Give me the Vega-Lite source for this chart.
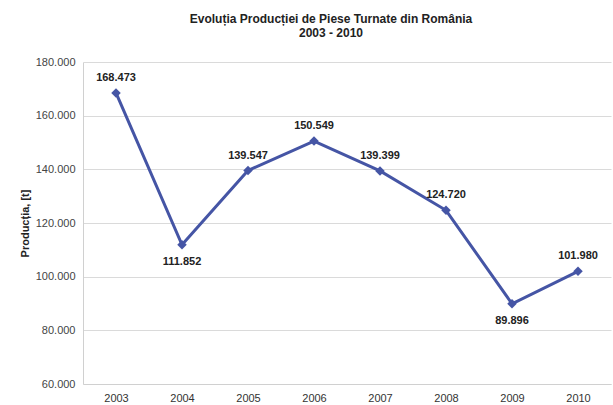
{
  "$schema": "https://vega.github.io/schema/vega-lite/v6.json",
  "autosize": "none",
  "width": 528,
  "height": 322,
  "padding": {"left": 83, "top": 62, "right": 2, "bottom": 21},
  "background": "white",
  "config": {
    "locale": {"number": {"decimal": ",", "thousands": ".", "grouping": [3], "currency": ["", ""]}},
    "font": "Liberation Sans",
    "view": {"stroke": null}
  },
  "title": {
    "text": ["Evoluția Producției de Piese Turnate din România", "2003 - 2010"],
    "fontSize": 12,
    "fontWeight": "bold",
    "color": "#222222",
    "font": "Liberation Sans",
    "anchor": "middle",
    "dx": -16,
    "offset": 16,
    "lineHeight": 14
  },
  "data": {
    "values": [
      {"year": "2003", "prod": 168473},
      {"year": "2004", "prod": 111852},
      {"year": "2005", "prod": 139547},
      {"year": "2006", "prod": 150549},
      {"year": "2007", "prod": 139399},
      {"year": "2008", "prod": 124720},
      {"year": "2009", "prod": 89896},
      {"year": "2010", "prod": 101980}
    ]
  },
  "encoding": {
    "x": {
      "field": "year", "type": "ordinal",
      "scale": {"paddingInner": 1, "paddingOuter": 0.5},
      "axis": {"title": null, "labelAngle": 0, "ticks": false, "domainColor": "#d0d0d0", "labelFontSize": 11, "labelColor": "#333333", "labelPadding": 8, "grid": false}
    },
    "y": {
      "field": "prod", "type": "quantitative",
      "scale": {"domain": [60000, 180000], "nice": false, "zero": false},
      "axis": {"title": "Producția, [t]", "values": [60000, 80000, 100000, 120000, 140000, 160000, 180000], "format": ",.0f", "ticks": false, "domainColor": "#d0d0d0", "gridColor": "#dadada", "labelFontSize": 11, "labelColor": "#444444", "labelPadding": 8, "titleFontSize": 11, "titleFontWeight": "bold", "titleColor": "#222222", "titlePadding": 5}
    }
  },
  "layer": [
    {"mark": {"type": "line", "color": "#4555a5", "strokeWidth": 3}},
    {"mark": {"type": "point", "shape": "diamond", "filled": true, "color": "#4555a5", "size": 90, "opacity": 1}},
    {
      "transform": [{"filter": "datum.year != '2004' && datum.year != '2009'"}],
      "mark": {"type": "text", "dy": -15, "fontSize": 11, "fontWeight": "bold", "color": "#222222"},
      "encoding": {"text": {"field": "prod", "type": "quantitative", "format": ",.0f"}}
    },
    {
      "transform": [{"filter": "datum.year == '2004' || datum.year == '2009'"}],
      "mark": {"type": "text", "dy": 17, "fontSize": 11, "fontWeight": "bold", "color": "#222222"},
      "encoding": {"text": {"field": "prod", "type": "quantitative", "format": ",.0f"}}
    }
  ]
}
